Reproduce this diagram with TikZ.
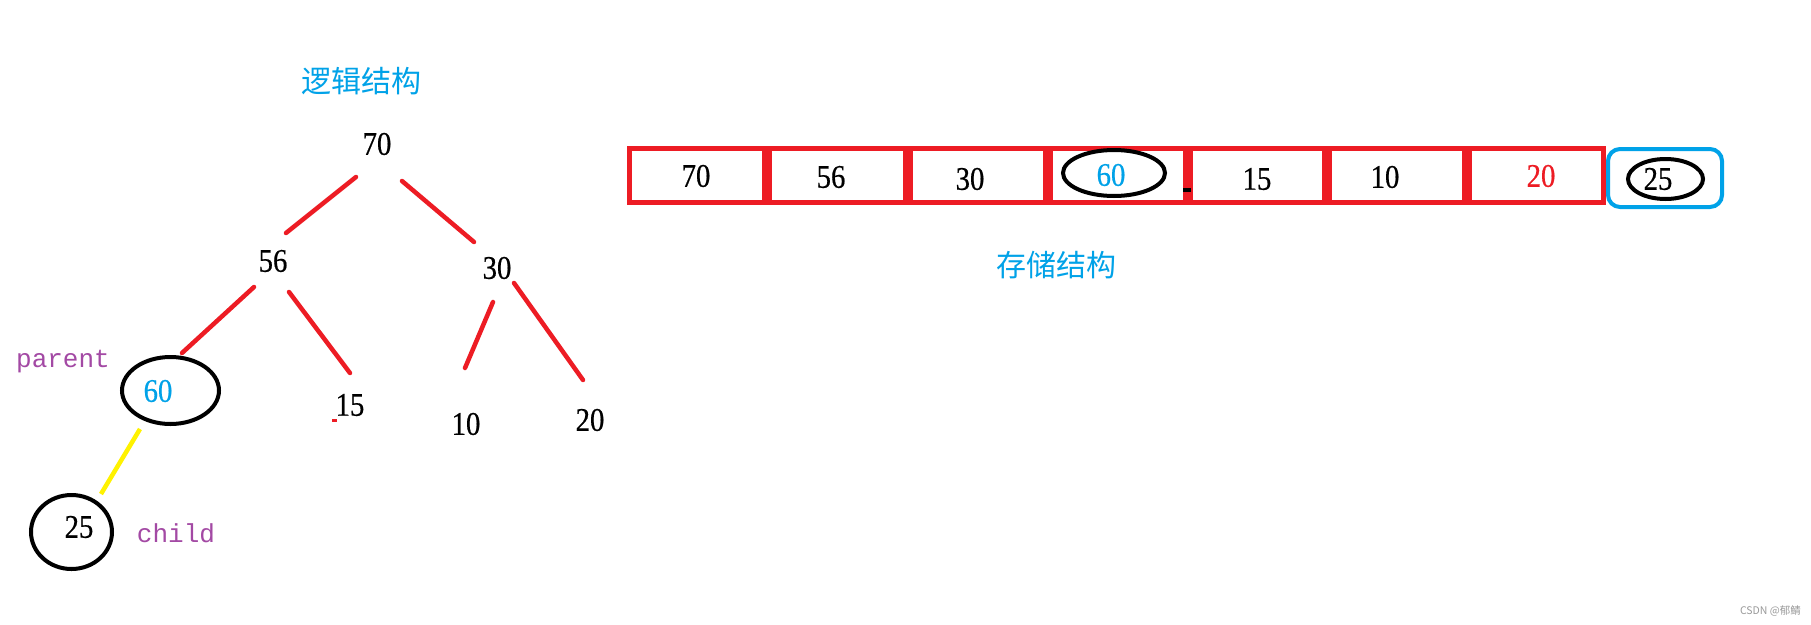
\documentclass[tikz,border=0pt]{standalone}
\usepackage{fontspec}
\setmainfont{Liberation Serif}
\newfontfamily\numf[FakeStretch=0.87,FakeBold=0.5]{Liberation Serif}
\newfontfamily\monof{Liberation Mono}
\newfontfamily\cjkf{Noto Sans CJK SC}
\definecolor{pred}{HTML}{ED1C24}
\definecolor{pblue}{HTML}{00A2E8}
\definecolor{ppurple}{HTML}{A349A4}
\definecolor{pyellow}{HTML}{FFF200}
\definecolor{wgrey}{HTML}{9A9A9A}
\tikzset{
  num/.style={inner sep=0pt, font=\numf\fontsize{33}{33}\selectfont},
  lbl/.style={inner sep=0pt, text=ppurple, font=\monof\fontsize{26}{26}\selectfont},
  title/.style={inner sep=0pt, text=pblue, font=\cjkf\fontsize{30}{30}\selectfont},
  edge/.style={draw=pred, line width=4.5pt, line cap=round},
  cell/.style={draw=pred, line width=5pt},
}
\begin{document}
\begin{tikzpicture}[x=1pt,y=-1pt]
\fill[white] (0,0) rectangle (1811,624);
\useasboundingbox (0,0) rectangle (1811,624);

% ---------- logical structure (tree) ----------
\node[title] (t1) at (361,81) {逻辑结构};
\node[num] (n70) at (377,144) {70};
\node[num] (n56) at (273,261) {56};
\node[num] (n30) at (497,268) {30};
\node[num, text=pblue] (n60) at (158,391) {60};
\node[num] (n15) at (350,405) {15};
\node[num] (n10) at (466,424) {10};
\node[num] (n20) at (590,420) {20};
\node[num] (n25) at (79,527) {25};
\node[lbl] (par) at (63,362) {parent};
\node[lbl] (chi) at (176,533) {child};

\draw[line width=4pt] (170.5,390.5) ellipse [x radius=48.5, y radius=33.5];
\draw[line width=4pt] (71.5,532) ellipse [x radius=40.5, y radius=37];

\coordinate (a1) at (356,177); \coordinate (a2) at (286,233);
\coordinate (b1) at (402,181); \coordinate (b2) at (474,242);
\coordinate (c1) at (254,287); \coordinate (c2) at (182,353);
\coordinate (d1) at (289,292); \coordinate (d2) at (350,373);
\coordinate (e1) at (493,302); \coordinate (e2) at (465,368);
\coordinate (f1) at (514,283); \coordinate (f2) at (583,380);
\coordinate (g1) at (140,429); \coordinate (g2) at (101,494);
\draw[edge] (a1) -- (a2);
\draw[edge] (b1) -- (b2);
\draw[edge] (c1) -- (c2);
\draw[edge] (d1) -- (d2);
\draw[edge] (e1) -- (e2);
\draw[edge] (f1) -- (f2);
\draw[draw=pyellow, line width=4.5pt] (g1) -- (g2);
\fill[pred] (332,419) rectangle (337,421.5);

% ---------- storage structure (array) ----------
\draw[cell] (629.5,148.5) rectangle (764.5,202.5);
\draw[cell] (769.5,148.5) rectangle (905.5,202.5);
\draw[cell] (910.5,148.5) rectangle (1045.5,202.5);
\draw[cell] (1050.5,148.5) rectangle (1185.5,202.5);
\draw[cell] (1190.5,148.5) rectangle (1324.5,202.5);
\draw[cell] (1329.5,148.5) rectangle (1464.5,202.5);
\draw[cell] (1469.5,148.5) rectangle (1603.5,202.5);
\draw[draw=pblue, line width=4pt, rounded corners=12pt] (1608,149) rectangle (1722,207);
\fill[black] (1183,188) rectangle (1191,191.5);

\node[num] (v1) at (696,176) {70};
\node[num] (v2) at (831,177) {56};
\node[num] (v3) at (970,179) {30};
\node[num, text=pblue] (v4) at (1111,175) {60};
\node[num] (v5) at (1257,179) {15};
\node[num] (v6) at (1385,177) {10};
\node[num, text=pred] (v7) at (1541,176) {20};
\node[num] (v8) at (1658,179) {25};
\draw[line width=4pt] (1114,173) ellipse [x radius=51, y radius=23];
\draw[line width=4pt] (1665.5,179) ellipse [x radius=37.5, y radius=20];

\node[title] (t2) at (1056,265) {存储结构};

\node[inner sep=0pt, text=wgrey, font=\cjkf\fontsize{10.5}{10.5}\selectfont, anchor=east] (wm) at (1801,611) {CSDN @郁鲭};
\end{tikzpicture}
\end{document}
